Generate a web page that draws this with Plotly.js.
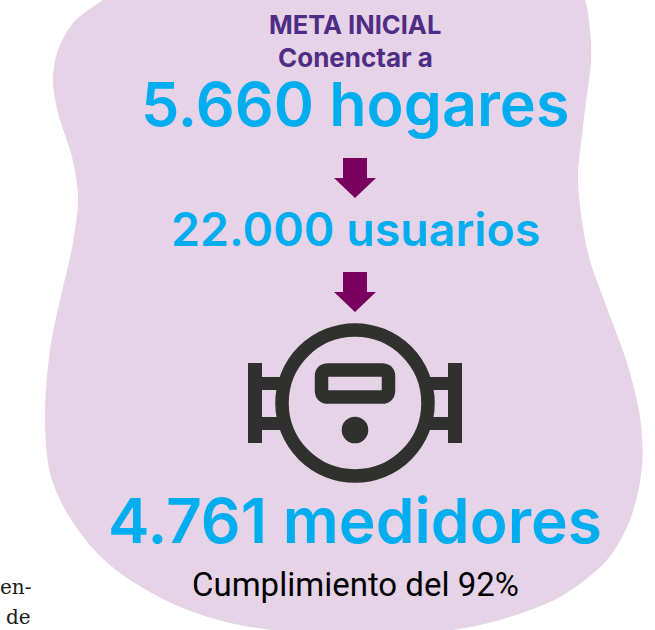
<!DOCTYPE html>
<html><head><meta charset="utf-8">
<script src="https://cdn.plot.ly/plotly-3.0.1.min.js"></script>
<style>html,body{margin:0;padding:0;background:#fff}#c{width:655px;height:630px}</style>
</head><body><div id="c"></div>
<script>
const blobX=[103,73,57,53,58,72,78,73,60,50,45,50,67,97,130,180,230,290,370,453,500,560,607,630,642,640,627,604,588,578,583,591,590,585,575,500,340,200,135];
const blobY=[0,23,53,80,113,157,197,243,300,350,417,473,513,553,580,607,623,632,636,630,620,597,560,520,467,417,363,300,253,180,127,60,30,0,-15,-30,-35,-30,-15];
const labels=["META INICIAL","Conenctar a","5.660 hogares","22.000 usuarios","4.761 medidores","Cumplimiento del 92%"];
const labelY=[24,57,104,229,520,584];
const labelSize=[25.5,26,61,46.5,62.3,33];
const labelWeight=[700,700,600,600,600,400];
const labelColor=["#4f2d84","#4f2d84","#00aeef","#00aeef","#00aeef","#000000"];
const labelFont=["Inter","Inter","Inter","Inter","Inter","Roboto"];
const arrowTop=[158,272];
const bodyText=["en-","de"];
const bodyY=[587,617];

const annotations=labels.map((t,i)=>({text:t,x:355,y:labelY[i],xref:"x",yref:"y",xanchor:"center",yanchor:"middle",showarrow:false,
  font:{family:labelFont[i],size:labelSize[i],color:labelColor[i],weight:labelWeight[i]}}));
bodyText.forEach((t,i)=>annotations.push({text:t,x:33,y:bodyY[i],xref:"x",yref:"y",xanchor:"right",yanchor:"middle",showarrow:false,
  font:{family:"DejaVu Serif",size:20,color:"#1a1a1a"}}));

const ink="#30302e";
const shapes=[];
const rect=(x0,y0,x1,y1)=>shapes.push({type:"rect",xref:"x",yref:"y",x0,y0,x1,y1,fillcolor:ink,line:{width:0}});
rect(248,363,262,443);rect(448,363,462,443);
rect(262,377,286,390);rect(262,417,286,430);rect(424,377,448,390);rect(424,417,448,430);
shapes.push({type:"circle",xref:"x",yref:"y",x0:282,y0:330,x1:428,y1:476,fillcolor:"rgba(0,0,0,0)",line:{color:ink,width:13.5}});
shapes.push({type:"path",xref:"x",yref:"y",path:"M328,370 L382,370 Q388.5,370 388.5,376.5 L388.5,390.5 Q388.5,397 382,397 L328,397 Q321.5,397 321.5,390.5 L321.5,376.5 Q321.5,370 328,370 Z",fillcolor:"rgba(0,0,0,0)",line:{color:ink,width:13.5}});
shapes.push({type:"circle",xref:"x",yref:"y",x0:341.7,y0:416.7,x1:368.3,y1:443.3,fillcolor:ink,line:{width:0}});
arrowTop.forEach(t=>shapes.push({type:"path",xref:"x",yref:"y",
  path:`M343,${t} L367,${t} L367,${t+20} L376,${t+20} L355,${t+40} L334,${t+20} L343,${t+20} Z`,fillcolor:"#7a005f",line:{width:0}}));

Plotly.newPlot("c",[{x:blobX,y:blobY,mode:"lines",line:{shape:"spline",smoothing:0.9,color:"#e6d3e8",width:0},fill:"toself",fillcolor:"#e6d3e8",hoverinfo:"skip",showlegend:false}],
{width:655,height:630,margin:{l:0,r:0,t:0,b:0},paper_bgcolor:"#fff",plot_bgcolor:"#fff",showlegend:false,
 xaxis:{range:[0,655],visible:false,fixedrange:true},yaxis:{range:[630,0],visible:false,fixedrange:true},
 shapes,annotations},{displayModeBar:false,staticPlot:true});
</script></body></html>
